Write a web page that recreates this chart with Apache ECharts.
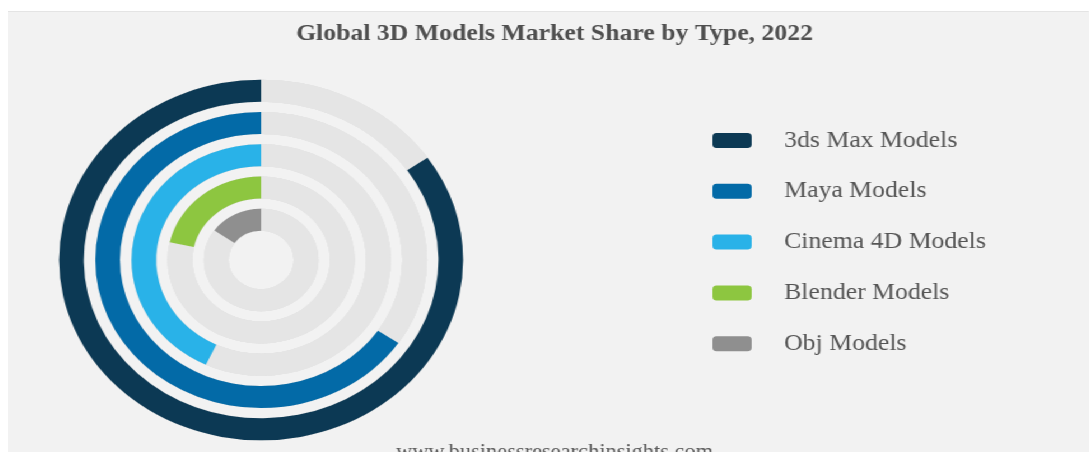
<!DOCTYPE html>
<html>
<head>
<meta charset="utf-8">
<script src="https://cdn.jsdelivr.net/npm/echarts@6/dist/echarts.min.js"></script>
<style>
  html, body { margin: 0; padding: 0; background: #ffffff; width: 1089px; height: 452px; overflow: hidden; }
  #wrap { position: absolute; left: 8px; top: 11px; width: 965px; height: 441px;
          transform: scaleX(1.12); transform-origin: 0 0; border-top: 1px solid #e4e4e4; box-sizing: border-box; }
  #chart { width: 965px; height: 440px; }
</style>
</head>
<body>
<div id="wrap"><div id="chart"></div></div>
<script>
// ---- data ----
const titleText = 'Global 3D Models Market Share by Type, 2022';
const sourceText = 'www.businessresearchinsights.com';
const categories = ['3ds Max Models', 'Maya Models', 'Cinema 4D Models', 'Blender Models', 'Obj Models'];
const shares = [36.8, 28.5, 18.7, 9.4, 6.6];
const colors = ['#0c3954', '#036aa7', '#29b2e8', '#8dc640', '#8f8f8f'];
const angleMax = 43.5;

// radius axis: innermost first
const radiusCats = categories.slice().reverse();

const series = categories.map(function (name, i) {
  const data = radiusCats.map(function (c) { return c === name ? shares[i] : '-'; });
  return {
    type: 'bar',
    name: name,
    coordinateSystem: 'polar',
    stack: 'all',
    barWidth: 22,
    data: data,
    itemStyle: { color: colors[i] },
    showBackground: true,
    backgroundStyle: { color: '#e5e5e5' },
    emphasis: { disabled: true },
    animation: false
  };
});

const chart = echarts.init(document.getElementById('chart'), null, { renderer: 'canvas' });
chart.setOption({
  backgroundColor: '#f2f2f2',
  animation: false,
  color: colors,
  title: [
    {
      text: titleText,
      left: 483, top: 6, textAlign: 'center',
      textStyle: { fontFamily: 'Liberation Serif', fontWeight: 'bold', fontSize: 23, color: '#4f4f4f' }
    },
    {
      text: sourceText,
      left: 483, top: 426, textAlign: 'center',
      textStyle: { fontFamily: 'Liberation Serif', fontWeight: 'normal', fontSize: 20, color: '#5a5a5a' }
    }
  ],
  legend: {
    orient: 'vertical',
    left: 624, top: 112,
    itemWidth: 35, itemHeight: 15,
    itemGap: 27.8,
    icon: 'roundRect',
    selectedMode: false,
    data: categories,
    textStyle: { fontFamily: 'Liberation Serif', fontSize: 23, lineHeight: 22, color: '#555555', padding: [0, 0, 0, 24] }
  },
  polar: { center: [226, 248], radius: [24, 185.5] },
  angleAxis: {
    type: 'value', min: 0, max: angleMax, startAngle: 90, clockwise: false,
    axisLine: { show: false }, axisTick: { show: false }, axisLabel: { show: false }, splitLine: { show: false }
  },
  radiusAxis: {
    type: 'category', data: radiusCats,
    axisLine: { show: false }, axisTick: { show: false }, axisLabel: { show: false }, splitLine: { show: false }
  },
  series: series
});
</script>
</body>
</html>
